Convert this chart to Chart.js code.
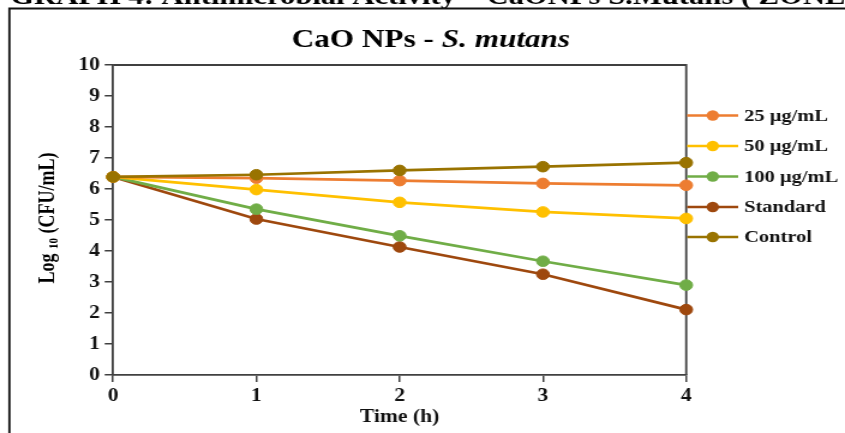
<!DOCTYPE html>
<html>
<head>
<meta charset="utf-8">
<script src="https://cdn.jsdelivr.net/npm/chart.js@4"></script>
<style>
  html, body { margin: 0; padding: 0; background: #fff; overflow: hidden; }
  /* the reference picture is stretched sideways, so the whole chart is too */
  #wrap { width: 704px; height: 433px; transform: scaleX(1.2003); transform-origin: 0 0; }
</style>
</head>
<body>
<div id="wrap"><canvas id="chart" width="704" height="433"></canvas></div>
<script>
const times = [0, 1, 2, 3, 4];
const seriesNames = ["25 µg/mL", "50 µg/mL", "100 µg/mL", "Standard", "Control"];
const conc25 = [6.39, 6.35, 6.27, 6.18, 6.12];
const conc50 = [6.39, 5.98, 5.57, 5.26, 5.05];
const conc100 = [6.39, 5.35, 4.49, 3.67, 2.90];
const standard = [6.39, 5.03, 4.13, 3.25, 2.11];
const control = [6.39, 6.46, 6.60, 6.72, 6.85];
const colors = ["#ED7D31", "#FFC000", "#70AD47", "#9E480E", "#997300"];

const serif = "'Liberation Serif', 'Times New Roman', serif";
const allSeries = [conc25, conc50, conc100, standard, control];

const datasets = allSeries.map((vals, i) => ({
  label: seriesNames[i],
  data: vals.map((v, j) => ({ x: times[j], y: v })),
  borderColor: colors[i],
  backgroundColor: colors[i],
  pointBackgroundColor: colors[i],
  pointBorderColor: colors[i],
  borderWidth: 2.7,
  pointRadius: 5.3,
  pointBorderWidth: 1,
  tension: 0,
  clip: false,
  order: i === 4 ? -1 : 0
}));

// page heading, frame, title, y title, box and legend
const extras = {
  id: "extras",
  beforeDatasetsDraw(chart) {
    const { ctx, chartArea: a } = chart;
    ctx.save();
    ctx.strokeStyle = "#404040";
    ctx.lineWidth = 1.8;
    ctx.beginPath();
    ctx.moveTo(a.left, a.top);
    ctx.lineTo(a.right, a.top);
    ctx.lineTo(a.right, a.bottom);
    ctx.stroke();
    ctx.restore();
  },
  afterDraw(chart) {
    const { ctx } = chart;
    ctx.save();
    // cut off heading of the page
    ctx.fillStyle = "#000";
    ctx.font = "bold 25.5px " + serif;
    ctx.textBaseline = "alphabetic";
    ctx.textAlign = "left";
    ctx.fillText("GRAPH 4: Antimicrobial Activity – CaONPs S.Mutans ( ZONE OF INHIBITION )", 8.5, 3.8);

    // frame
    ctx.strokeStyle = "#111";
    ctx.lineWidth = 1.8;
    ctx.beginPath();
    ctx.moveTo(7.8, 440);
    ctx.lineTo(7.8, 8.5);
    ctx.lineTo(720, 8.5);
    ctx.stroke();

    // title
    const t1 = "CaO NPs - ", t2 = "S. mutans";
    ctx.font = "bold 26px " + serif;
    const w1 = ctx.measureText(t1).width;
    ctx.font = "italic bold 26px " + serif;
    const w2 = ctx.measureText(t2).width;
    let x = 359 - (w1 + w2) / 2;
    ctx.textBaseline = "middle";
    ctx.font = "bold 26px " + serif;
    ctx.fillText(t1, x, 40);
    ctx.font = "italic bold 26px " + serif;
    ctx.fillText(t2, x + w1, 40);

    // y axis title with subscript
    ctx.translate(38.8, 218);
    ctx.rotate(-Math.PI / 2);
    const p1 = "Log ", p2 = "10", p3 = " (CFU/mL)";
    ctx.font = "bold 18px " + serif;
    const a1 = ctx.measureText(p1).width, a3 = ctx.measureText(p3).width;
    ctx.font = "bold 11px " + serif;
    const a2 = ctx.measureText(p2).width;
    let sx = -(a1 + a2 + a3) / 2;
    ctx.textBaseline = "alphabetic";
    ctx.font = "bold 18px " + serif;
    ctx.fillText(p1, sx, 6);
    ctx.font = "bold 11px " + serif;
    ctx.fillText(p2, sx + a1, 9);
    ctx.font = "bold 18px " + serif;
    ctx.fillText(p3, sx + a1 + a2, 6);
    ctx.restore();

    // legend
    ctx.save();
    const rows = [115.5, 146, 176.5, 207, 237];
    chart.data.datasets.forEach((ds, i) => {
      const y = rows[i];
      ctx.strokeStyle = ds.borderColor;
      ctx.lineWidth = 2.5;
      ctx.beginPath();
      ctx.moveTo(572.5, y);
      ctx.lineTo(615, y);
      ctx.stroke();
      ctx.fillStyle = ds.borderColor;
      ctx.beginPath();
      ctx.arc(593.8, y, 5.2, 0, Math.PI * 2);
      ctx.fill();
      ctx.fillStyle = "#111";
      ctx.font = "bold 17px " + serif;
      ctx.textBaseline = "middle";
      ctx.textAlign = "left";
      ctx.fillText(ds.label, 620, y + 1);
    });
    ctx.restore();
  }
};

new Chart(document.getElementById("chart"), {
  type: "line",
  data: { datasets },
  options: {
    responsive: false,
    animation: false,
    layout: { padding: { left: 0, right: 132.3, top: 65, bottom: 0 } },
    plugins: { legend: { display: false }, tooltip: { enabled: false }, title: { display: false } },
    scales: {
      x: {
        type: "linear",
        min: 0,
        max: 4,
        afterFit: (s) => { s.height = 58; },
        ticks: { stepSize: 1, color: "#111", font: { family: serif, size: 18, weight: "bold" }, padding: 4, maxRotation: 0 },
        grid: { display: true, drawOnChartArea: false, drawTicks: true, tickLength: 7, color: "#404040", lineWidth: 1.5 },
        border: { display: true, color: "#404040", width: 1.8 },
        title: { display: true, text: "Time (h)", color: "#111", font: { family: serif, size: 18, weight: "bold" }, padding: { top: 0, bottom: 5 } }
      },
      y: {
        min: 0,
        max: 10,
        afterFit: (s) => { s.width = 94.2; },
        ticks: { stepSize: 1, color: "#111", font: { family: serif, size: 18, weight: "bold" }, padding: 4 },
        grid: { display: true, drawOnChartArea: false, drawTicks: true, tickLength: 7, color: "#404040", lineWidth: 1.5 },
        border: { display: true, color: "#404040", width: 1.8 }
      }
    }
  },
  plugins: [extras]
});
</script>
</body>
</html>
